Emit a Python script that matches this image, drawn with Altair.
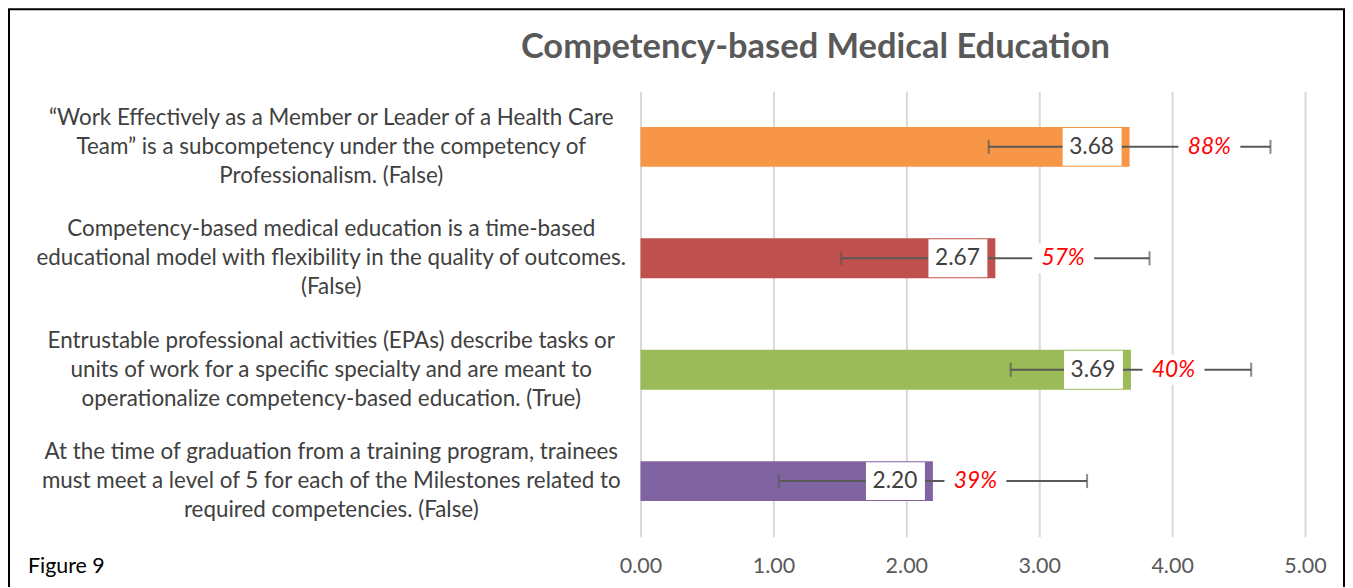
import altair as alt
import pandas as pd

categories = [
    "“Work Effectively as a Member or Leader of a Health Care\nTeam” is a subcompetency under the competency of\nProfessionalism. (False)",
    "Competency-based medical education is a time-based\neducational model with flexibility in the quality of outcomes.\n(False)",
    "Entrustable professional activities (EPAs) describe tasks or\nunits of work for a specific specialty and are meant to\noperationalize competency-based education. (True)",
    "At the time of graduation from a training program, trainees\nmust meet a level of 5 for each of the Milestones related to\nrequired competencies. (False)",
]
means = [3.68, 2.67, 3.69, 2.20]
errors = [1.06, 1.16, 0.905, 1.16]
pct_labels = ["88%", "57%", "40%", "39%"]
pct_positions = [4.28, 3.18, 4.01, 2.52]
bar_colors = ["#F79646", "#C0504D", "#9BBB59", "#8064A2"]
x_ticks = [0, 1, 2, 3, 4, 5]
title_text = "Competency-based Medical Education"
figure_note = "Figure 9"

df = pd.DataFrame({
    "cat": categories,
    "mean": means,
    "lo": [m - e for m, e in zip(means, errors)],
    "hi": [m + e for m, e in zip(means, errors)],
    "pct": pct_labels,
    "pct_pos": pct_positions,
    "color": bar_colors,
    "val": [f"{m:.2f}" for m in means],
})

FONT = "Lato"
W, H = 665, 446

y_enc = alt.Y(
    "cat:N", sort=categories,
    scale=alt.Scale(paddingInner=0, paddingOuter=0),
    axis=alt.Axis(
        title=None, labelExpr="split(datum.label, '\\n')", labelAlign="center",
        labelBaseline="middle", labelPadding=310, ticks=False, tickSize=0, domain=False,
        labelFontSize=22.4, labelLineHeight=29, labelOffset=-29, labelColor="#404040",
        labelFont=FONT, labelLimit=1000,
    ),
)
x_scale = alt.Scale(domain=[0, 5], nice=False, zero=True)
x_axis = alt.Axis(
    values=x_ticks, format=".2f", title=None, grid=True, gridColor="#D9D9D9",
    gridWidth=2, domain=False, ticks=False, tickSize=0, labelPadding=19, labelFontSize=21.5,
    labelColor="#595959", labelFont=FONT, labelFlush=False,
)

base = alt.Chart(df)

bars = base.mark_bar(size=40).encode(
    x=alt.X("mean:Q", scale=x_scale, axis=x_axis),
    y=y_enc,
    color=alt.Color("color:N", scale=None),
)

err_rule = base.mark_rule(color="#595959", strokeWidth=2).encode(
    x="lo:Q", x2="hi:Q", y=y_enc,
)
cap_lo = base.mark_tick(color="#595959", thickness=2, size=14, orient="vertical").encode(
    x="lo:Q", y=y_enc,
)
cap_hi = base.mark_tick(color="#595959", thickness=2, size=14, orient="vertical").encode(
    x="hi:Q", y=y_enc,
)

val_box = base.mark_bar(size=38, color="white", xOffset=-67, x2Offset=-8).encode(
    x="mean:Q", x2="mean:Q", y=y_enc,
)
val_text = base.mark_text(
    align="center", baseline="middle", dx=-38, fontSize=22.7, color="#404040", font=FONT
).encode(x="mean:Q", y=y_enc, text="val:N")

pct_box = base.mark_bar(size=30, color="white", xOffset=-31, x2Offset=31).encode(
    x="pct_pos:Q", x2="pct_pos:Q", y=y_enc,
)
pct_text = base.mark_text(
    align="center", baseline="middle", fontSize=22.7, color="#FF0000",
    fontStyle="italic", font=FONT
).encode(x="pct_pos:Q", y=y_enc, text="pct:N")

one = pd.DataFrame({"t": [title_text]})
title = alt.Chart(one).mark_text(
    align="center", baseline="middle", fontSize=34.5, fontWeight="bold",
    color="#595959", font=FONT
).encode(text="t:N", x=alt.value(175), y=alt.value(-43))

note = alt.Chart(pd.DataFrame({"t": [figure_note]})).mark_text(
    align="left", baseline="middle", fontSize=21.4, color="#000000", font=FONT
).encode(text="t:N", x=alt.value(-613), y=alt.value(476))

frame = alt.Chart(pd.DataFrame({"t": [0]})).mark_rect(
    fill="white", fillOpacity=0, stroke="black", strokeWidth=2
).encode(x=alt.value(-632), x2=alt.value(704), y=alt.value(-82), y2=alt.value(620))

chart = alt.layer(
    bars, err_rule, cap_lo, cap_hi, val_box, val_text, pct_box, pct_text,
    title, note, frame
).properties(
    width=W, height=H,
    background="white",
    autosize=alt.AutoSizeParams(type="none"),
    padding={"left": 633, "top": 83, "right": 40, "bottom": 50},
).configure_view(stroke=None)

chart.save("out.html", embed_options={"renderer": "svg", "actions": False})
